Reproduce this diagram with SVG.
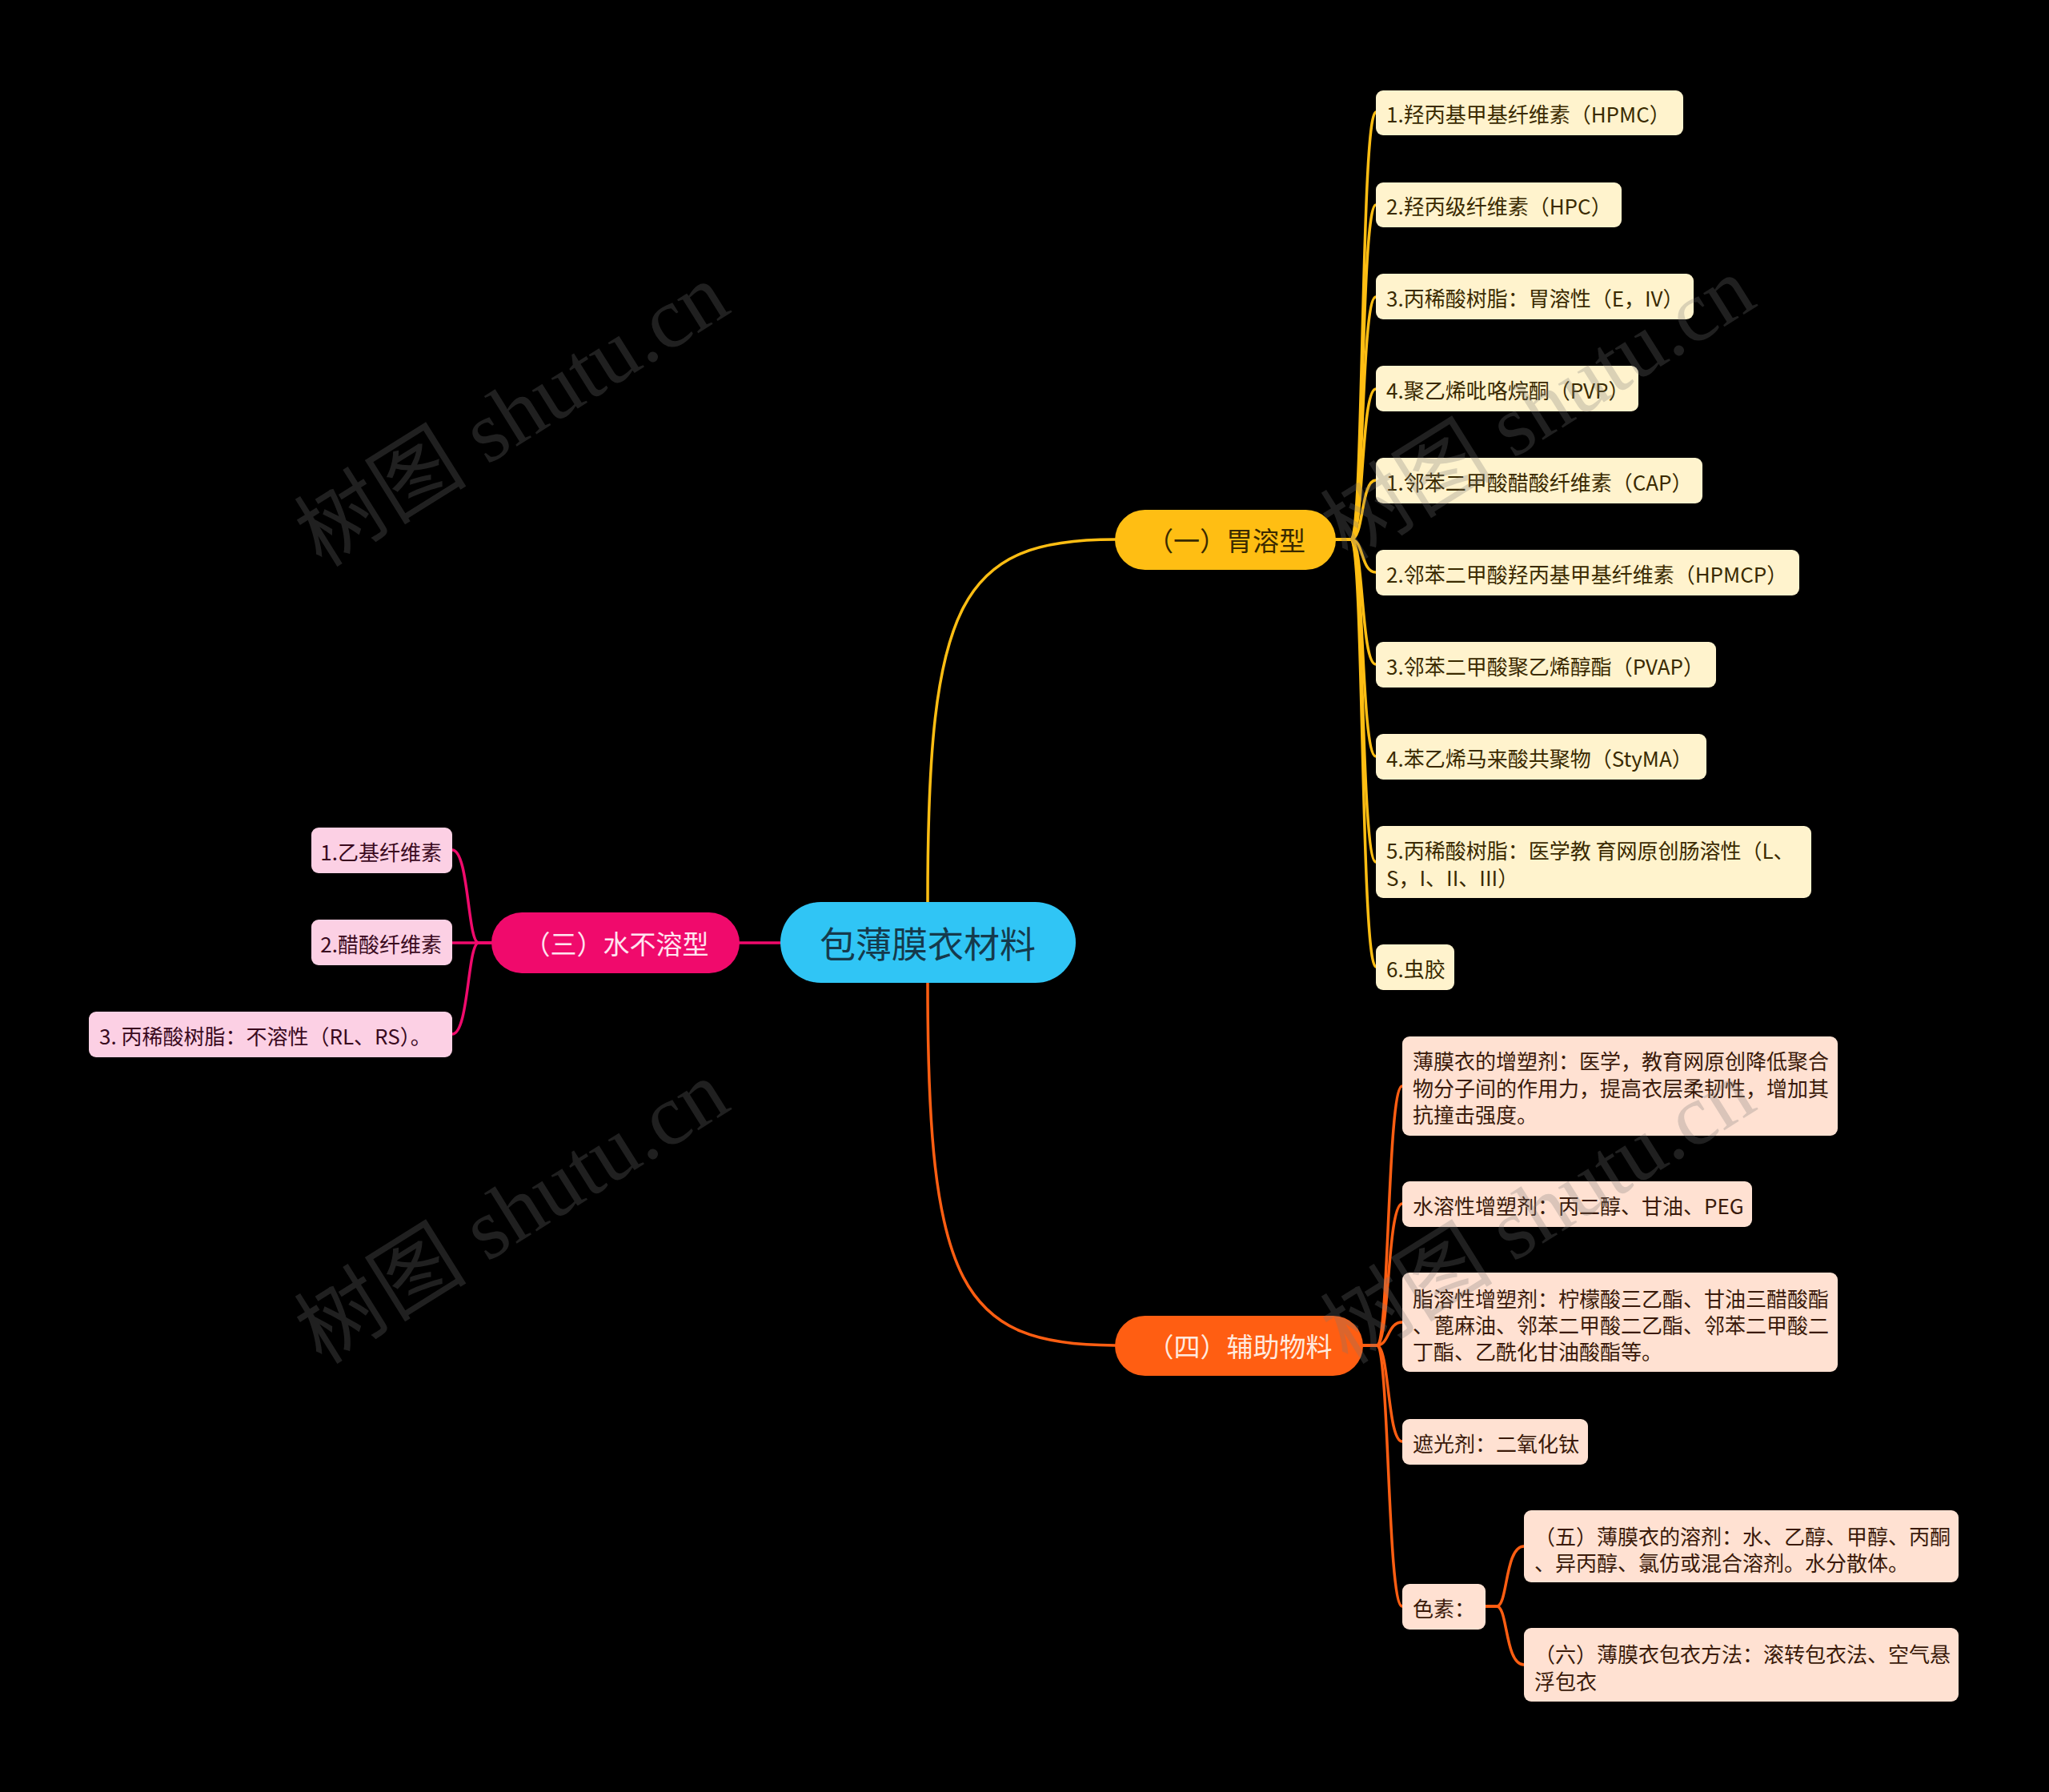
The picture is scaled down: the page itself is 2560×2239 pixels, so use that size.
<svg xmlns="http://www.w3.org/2000/svg" width="2560" height="2239" viewBox="0 0 2560 2239">
<style>
text{font-family:"Noto Sans CJK SC","Liberation Sans",sans-serif;dominant-baseline:central}
.c{fill:none;stroke-width:3.5;stroke-linecap:round}
.cy{stroke:#FFBE13}.cp{stroke:#F00A6C}.co{stroke:#FF5E12}
.ly rect{fill:#FFF3CD}.ly text{fill:#3A2A00;font-size:26px}
.lp rect{fill:#FCD0E4}.lp text{fill:#3A0A1E;font-size:26px}
.lo rect{fill:#FFE1D2}.lo text{fill:#3A1A0A;font-size:26px}
.wm{font-family:"Liberation Serif","Noto Sans CJK SC",serif;font-size:108px;fill:#787878;opacity:0.27;dominant-baseline:auto}
</style>
<rect width="2560" height="2239" fill="#000000"/>
<g id="connectors">
<path class="c cy" d="M1159,1127 C1159,750 1200,674 1393,674"/>
<path class="c co" d="M1159,1228 C1159,1605 1200,1681 1393,1681"/>
<path class="c cp" d="M975,1178 L924,1178"/>
<path class="c cy" d="M1669,674 L1688,674 C1704,674 1700,140 1719,140"/>
<path class="c cy" d="M1669,674 L1688,674 C1704,674 1700,256 1719,256"/>
<path class="c cy" d="M1669,674 L1688,674 C1704,674 1700,371 1719,371"/>
<path class="c cy" d="M1669,674 L1688,674 C1704,674 1700,486 1719,486"/>
<path class="c cy" d="M1669,674 L1688,674 C1704,674 1700,600 1719,600"/>
<path class="c cy" d="M1669,674 L1688,674 C1704,674 1700,715 1719,715"/>
<path class="c cy" d="M1669,674 L1688,674 C1704,674 1700,830 1719,830"/>
<path class="c cy" d="M1669,674 L1688,674 C1704,674 1700,945 1719,945"/>
<path class="c cy" d="M1669,674 L1688,674 C1704,674 1700,1077 1719,1077"/>
<path class="c cy" d="M1669,674 L1688,674 C1704,674 1700,1208 1719,1208"/>
<path class="c cp" d="M614,1178 L598,1178 C584,1178 586,1062 565,1062"/>
<path class="c cp" d="M614,1178 L565,1178"/>
<path class="c cp" d="M614,1178 L598,1178 C584,1178 586,1292 565,1292"/>
<path class="c co" d="M1703,1681 L1720,1681 C1736,1681 1733,1357 1752,1357"/>
<path class="c co" d="M1703,1681 L1720,1681 C1736,1681 1733,1504 1752,1504"/>
<path class="c co" d="M1703,1681 L1720,1681 C1736,1681 1733,1652 1752,1652"/>
<path class="c co" d="M1703,1681 L1720,1681 C1736,1681 1733,1801 1752,1801"/>
<path class="c co" d="M1703,1681 L1720,1681 C1736,1681 1733,2007 1752,2007"/>
<path class="c co" d="M1856,2007 L1870,2007 C1884,2007 1880,1932 1904,1932"/>
<path class="c co" d="M1856,2007 L1870,2007 C1884,2007 1880,2080 1904,2080"/>
</g>
<g id="root"><rect x="975" y="1127" width="369" height="101" rx="50.5" fill="#30C5F5"/><text x="1159" y="1177" text-anchor="middle" font-size="45" fill="#153A4C">包薄膜衣材料</text></g>
<g id="b1"><rect x="1393" y="637" width="276" height="75" rx="37.5" fill="#FFBE13"/><text x="1532" y="674" text-anchor="middle" font-size="33" fill="#3A2A00">（一）胃溶型</text></g>
<g id="b3"><rect x="614" y="1140" width="310" height="76" rx="38" fill="#F00A6C"/><text x="770" y="1178" text-anchor="middle" font-size="33" fill="#FFE4F0">（三）水不溶型</text></g>
<g id="b4"><rect x="1393" y="1644" width="310" height="75" rx="37.5" fill="#FF5E12"/><text x="1549" y="1681" text-anchor="middle" font-size="33" fill="#FFEADF">（四）辅助物料</text></g>
<g id="y1" class="ly"><rect x="1719" y="113" width="384" height="56" rx="9"/><text x="1732" y="141">1.羟丙基甲基纤维素（HPMC）</text></g>
<g id="y2" class="ly"><rect x="1719" y="228" width="307" height="56" rx="9"/><text x="1732" y="256">2.羟丙级纤维素（HPC）</text></g>
<g id="y3" class="ly"><rect x="1719" y="342" width="397" height="57" rx="9"/><text x="1732" y="371">3.丙稀酸树脂：胃溶性（E，IV）</text></g>
<g id="y4" class="ly"><rect x="1719" y="457" width="328" height="57" rx="9"/><text x="1732" y="486">4.聚乙烯吡咯烷酮（PVP）</text></g>
<g id="y5" class="ly"><rect x="1719" y="572" width="408" height="57" rx="9"/><text x="1732" y="601">1.邻苯二甲酸醋酸纤维素（CAP）</text></g>
<g id="y6" class="ly"><rect x="1719" y="687" width="529" height="57" rx="9"/><text x="1732" y="716">2.邻苯二甲酸羟丙基甲基纤维素（HPMCP）</text></g>
<g id="y7" class="ly"><rect x="1719" y="802" width="425" height="57" rx="9"/><text x="1732" y="831">3.邻苯二甲酸聚乙烯醇酯（PVAP）</text></g>
<g id="y8" class="ly"><rect x="1719" y="917" width="413" height="57" rx="9"/><text x="1732" y="946">4.苯乙烯马来酸共聚物（StyMA）</text></g>
<g id="y9" class="ly"><rect x="1719" y="1032" width="544" height="90" rx="9"/><text x="1732" y="1061">5.丙稀酸树脂：医学教 育网原创肠溶性（L、</text><text x="1732" y="1095">S，I、II、III）</text></g>
<g id="y10" class="ly"><rect x="1719" y="1180" width="98" height="57" rx="9"/><text x="1732" y="1209">6.虫胶</text></g>
<g id="p1" class="lp"><rect x="389" y="1034" width="176" height="57" rx="9"/><text x="552" y="1063" text-anchor="end">1.乙基纤维素</text></g>
<g id="p2" class="lp"><rect x="389" y="1149" width="176" height="57" rx="9"/><text x="552" y="1178" text-anchor="end">2.醋酸纤维素</text></g>
<g id="p3" class="lp"><rect x="111" y="1264" width="454" height="57" rx="9"/><text x="124" y="1293">3. 丙稀酸树脂：不溶性（RL、RS）。</text></g>
<g id="o1" class="lo"><rect x="1752" y="1295" width="544" height="124" rx="9"/><text x="1765" y="1324">薄膜衣的增塑剂：医学，教育网原创降低聚合</text><text x="1765" y="1358">物分子间的作用力，提高衣层柔韧性，增加其</text><text x="1765" y="1391">抗撞击强度。</text></g>
<g id="o2" class="lo"><rect x="1752" y="1476" width="437" height="57" rx="9"/><text x="1765" y="1505">水溶性增塑剂：丙二醇、甘油、PEG</text></g>
<g id="o3" class="lo"><rect x="1752" y="1590" width="544" height="124" rx="9"/><text x="1765" y="1621">脂溶性增塑剂：柠檬酸三乙酯、甘油三醋酸酯</text><text x="1765" y="1654">、蓖麻油、邻苯二甲酸二乙酯、邻苯二甲酸二</text><text x="1765" y="1687">丁酯、乙酰化甘油酸酯等。</text></g>
<g id="o4" class="lo"><rect x="1752" y="1773" width="232" height="57" rx="9"/><text x="1765" y="1802">遮光剂：二氧化钛</text></g>
<g id="o5" class="lo"><rect x="1752" y="1979" width="104" height="57" rx="9"/><text x="1765" y="2008">色素：</text></g>
<g id="o51" class="lo"><rect x="1904" y="1887" width="543" height="90" rx="9"/><text x="1917" y="1918">（五）薄膜衣的溶剂：水、乙醇、甲醇、丙酮</text><text x="1917" y="1951">、异丙醇、氯仿或混合溶剂。水分散体。</text></g>
<g id="o52" class="lo"><rect x="1904" y="2034" width="543" height="92" rx="9"/><text x="1917" y="2065">（六）薄膜衣包衣方法：滚转包衣法、空气悬</text><text x="1917" y="2099">浮包衣</text></g>
<g id="watermarks">
<text class="wm" x="640" y="555" text-anchor="middle" transform="rotate(-32 640 519)">树图 shutu.cn</text>
<text class="wm" x="1922" y="547" text-anchor="middle" transform="rotate(-32 1922 511)">树图 shutu.cn</text>
<text class="wm" x="640" y="1551" text-anchor="middle" transform="rotate(-32 640 1515)">树图 shutu.cn</text>
<text class="wm" x="1922" y="1551" text-anchor="middle" transform="rotate(-32 1922 1515)">树图 shutu.cn</text>
</g>
</svg>
